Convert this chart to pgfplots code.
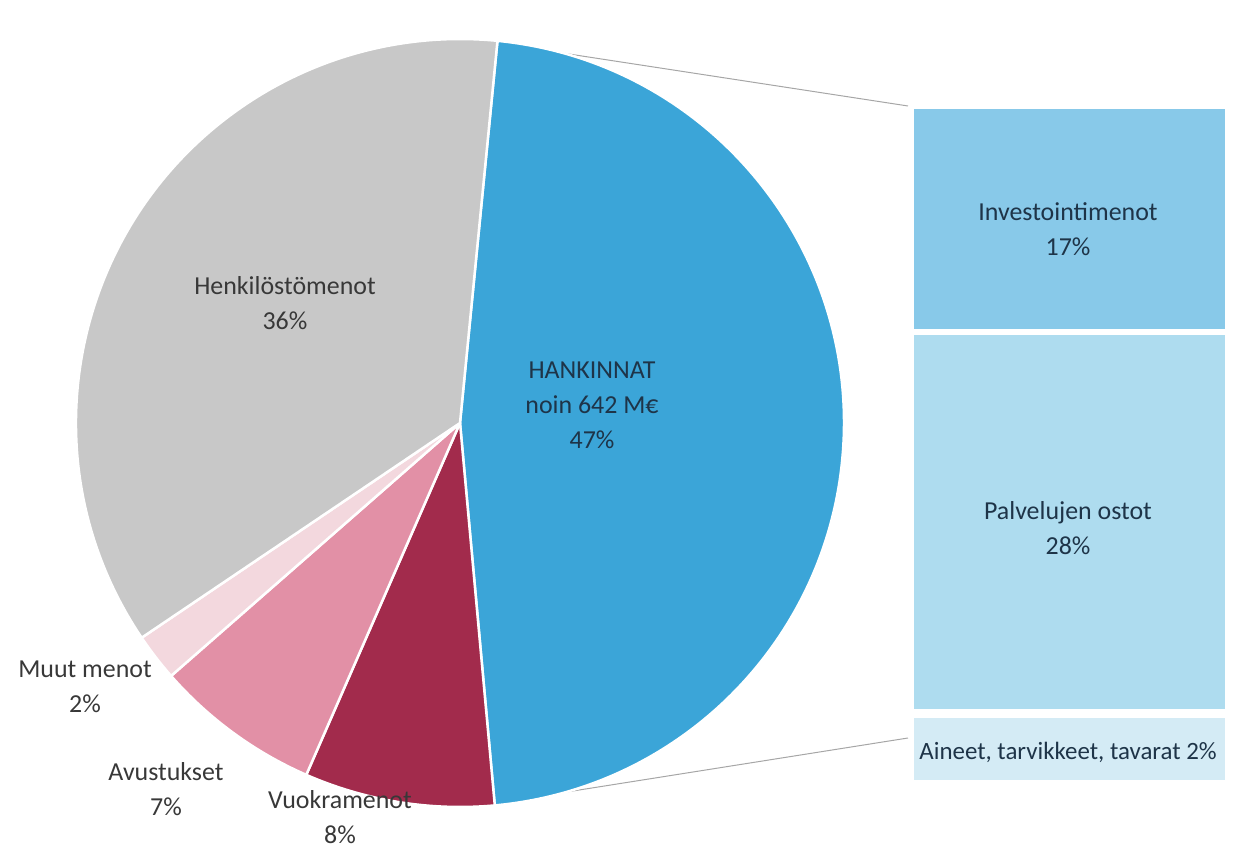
\documentclass[border=0pt]{standalone}
\usepackage{pgfplots}
\pgfplotsset{compat=1.18}
\usepackage{fontspec}
\setmainfont{Carlito}

\definecolor{cHank}{HTML}{3BA5D8}
\definecolor{cVuok}{HTML}{A22B4C}
\definecolor{cAvus}{HTML}{E290A6}
\definecolor{cMuut}{HTML}{F3D8DE}
\definecolor{cHenk}{HTML}{C8C8C8}
\definecolor{cInv}{HTML}{88C9E9}
\definecolor{cPalv}{HTML}{AEDCEF}
\definecolor{cAine}{HTML}{D4EBF5}
\definecolor{txt}{HTML}{383838}
\definecolor{txtb}{HTML}{1E3448}

\tikzset{lbl/.style={font=\fontsize{26}{35}\selectfont, text=txt, align=center, inner sep=0pt}}

% pie shares in percent, clockwise from the top
\def\pieslices{47/cHank, 8/cVuok, 7/cAvus, 2/cMuut, 36/cHenk}
\def\cx{460}
\def\cy{439}
\def\rad{384}

\begin{document}
\begin{tikzpicture}
\begin{axis}[
  x=1bp, y=1bp,
  xmin=0, xmax=1243, ymin=0, ymax=862,
  hide axis, clip=false,
]
\path (axis cs:0,0) rectangle (axis cs:1243,862);

% connector lines
\addplot[draw=gray!70, line width=1bp] coordinates {(497,819) (908,756)};
\addplot[draw=gray!70, line width=1bp] coordinates {(497,59) (908,124)};

% pie
\pgfmathsetmacro{\startang}{84.4}
\foreach \p/\c in \pieslices {
  \pgfmathsetmacro{\endang}{\startang-3.6*\p}
  \edef\doslice{\noexpand\fill[\c, draw=white, line width=2.5bp, line join=round]
    (axis cs:\cx,\cy) -- ++(\startang:\rad bp) arc[start angle=\startang, end angle=\endang, radius=\rad bp] -- cycle;}
  \doslice
  \global\let\startang\endang
}

% breakdown of HANKINNAT
\addplot[fill=cInv, draw=white, line width=3bp] coordinates {(912,754) (1226,754) (1226,531) (912,531)} -- cycle;
\addplot[fill=cPalv, draw=white, line width=3bp] coordinates {(912,528) (1226,528) (1226,151) (912,151)} -- cycle;
\addplot[fill=cAine, draw=white, line width=3bp] coordinates {(912,145) (1226,145) (1226,80) (912,80)} -- cycle;

% labels
\node[lbl] at (axis cs:285,559) {Henkilöstömenot\\36\%};
\node[lbl, text=txtb] at (axis cs:592,457) {HANKINNAT\\noin 642 M€\\47\%};
\node[lbl] at (axis cs:85,175) {Muut menot\\2\%};
\node[lbl] at (axis cs:166,73) {Avustukset\\7\%};
\node[lbl] at (axis cs:340,45) {Vuokramenot\\8\%};
\node[lbl, text=txtb] at (axis cs:1068,633) {Investointimenot\\17\%};
\node[lbl, text=txtb] at (axis cs:1068,334) {Palvelujen ostot\\28\%};
\node[lbl, text=txtb, font=\fontsize{25}{30}\selectfont] at (axis cs:1068,110) {Aineet, tarvikkeet, tavarat 2\%};
\end{axis}
\end{tikzpicture}
\end{document}
